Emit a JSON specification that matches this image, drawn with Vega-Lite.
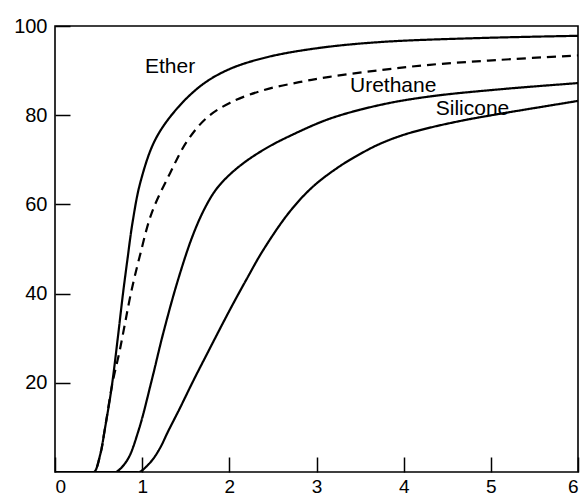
{
  "$schema": "https://vega.github.io/schema/vega-lite/v6.json",
  "width": 523,
  "height": 446,
  "autosize": {"type": "none"},
  "padding": {"left": 55, "top": 26, "right": 8, "bottom": 24},
  "background": "white",
  "config": {
    "view": {"stroke": "black", "strokeWidth": 1.6},
    "font": "Liberation Sans"
  },
  "datasets": {
    "curves": [
      {"series": "Ether", "t": 0, "v": 0},
      {"series": "Ether", "t": 0.4, "v": 0},
      {"series": "Ether", "t": 0.45, "v": 0},
      {"series": "Ether", "t": 0.52, "v": 4},
      {"series": "Ether", "t": 0.57, "v": 9.4},
      {"series": "Ether", "t": 0.65, "v": 19},
      {"series": "Ether", "t": 0.72, "v": 30},
      {"series": "Ether", "t": 0.78, "v": 40},
      {"series": "Ether", "t": 0.83, "v": 47.5},
      {"series": "Ether", "t": 0.89, "v": 56},
      {"series": "Ether", "t": 0.98, "v": 65},
      {"series": "Ether", "t": 1.15, "v": 74.5},
      {"series": "Ether", "t": 1.4, "v": 81.5},
      {"series": "Ether", "t": 1.7, "v": 87.0},
      {"series": "Ether", "t": 2.01, "v": 90.4},
      {"series": "Ether", "t": 2.43, "v": 93.0},
      {"series": "Ether", "t": 3.0, "v": 95.0},
      {"series": "Ether", "t": 3.73, "v": 96.4},
      {"series": "Ether", "t": 4.87, "v": 97.3},
      {"series": "Ether", "t": 6.0, "v": 97.8},
      {"series": "Dashed", "t": 0, "v": 0},
      {"series": "Dashed", "t": 0.4, "v": 0},
      {"series": "Dashed", "t": 0.45, "v": 0},
      {"series": "Dashed", "t": 0.52, "v": 4},
      {"series": "Dashed", "t": 0.57, "v": 9.4},
      {"series": "Dashed", "t": 0.66, "v": 20},
      {"series": "Dashed", "t": 0.74, "v": 27},
      {"series": "Dashed", "t": 0.8, "v": 33},
      {"series": "Dashed", "t": 0.87, "v": 40},
      {"series": "Dashed", "t": 0.97, "v": 48.2},
      {"series": "Dashed", "t": 1.11, "v": 58.1},
      {"series": "Dashed", "t": 1.32, "v": 67},
      {"series": "Dashed", "t": 1.51, "v": 74.0},
      {"series": "Dashed", "t": 1.74, "v": 79.4},
      {"series": "Dashed", "t": 2.01, "v": 82.8},
      {"series": "Dashed", "t": 2.39, "v": 85.6},
      {"series": "Dashed", "t": 2.8, "v": 87.4},
      {"series": "Dashed", "t": 3.15, "v": 88.6},
      {"series": "Dashed", "t": 3.73, "v": 90.1},
      {"series": "Dashed", "t": 4.3, "v": 91.3},
      {"series": "Dashed", "t": 5.1, "v": 92.4},
      {"series": "Dashed", "t": 6.0, "v": 93.4},
      {"series": "Urethane", "t": 0, "v": 0},
      {"series": "Urethane", "t": 0.65, "v": 0},
      {"series": "Urethane", "t": 0.7, "v": 0},
      {"series": "Urethane", "t": 0.83, "v": 2.7},
      {"series": "Urethane", "t": 0.96, "v": 9.4},
      {"series": "Urethane", "t": 1.11, "v": 20.6},
      {"series": "Urethane", "t": 1.24, "v": 31},
      {"series": "Urethane", "t": 1.41, "v": 43},
      {"series": "Urethane", "t": 1.58, "v": 53},
      {"series": "Urethane", "t": 1.72, "v": 59.2},
      {"series": "Urethane", "t": 1.85, "v": 63.4},
      {"series": "Urethane", "t": 2.0, "v": 66.6},
      {"series": "Urethane", "t": 2.2, "v": 69.8},
      {"series": "Urethane", "t": 2.45, "v": 72.9},
      {"series": "Urethane", "t": 2.7, "v": 75.4},
      {"series": "Urethane", "t": 3.15, "v": 79.2},
      {"series": "Urethane", "t": 3.73, "v": 82.3},
      {"series": "Urethane", "t": 4.3, "v": 84.2},
      {"series": "Urethane", "t": 5.1, "v": 85.8},
      {"series": "Urethane", "t": 6.0, "v": 87.2},
      {"series": "Silicone", "t": 0, "v": 0},
      {"series": "Silicone", "t": 0.92, "v": 0},
      {"series": "Silicone", "t": 0.97, "v": 0},
      {"series": "Silicone", "t": 1.1, "v": 2.3},
      {"series": "Silicone", "t": 1.2, "v": 5.2},
      {"series": "Silicone", "t": 1.3, "v": 9.2},
      {"series": "Silicone", "t": 1.43, "v": 14.2},
      {"series": "Silicone", "t": 1.58, "v": 20.2},
      {"series": "Silicone", "t": 1.7, "v": 24.8},
      {"series": "Silicone", "t": 2.01, "v": 36.5},
      {"series": "Silicone", "t": 2.2, "v": 43.3},
      {"series": "Silicone", "t": 2.39, "v": 49.8},
      {"series": "Silicone", "t": 2.69, "v": 58.3},
      {"series": "Silicone", "t": 2.96, "v": 64},
      {"series": "Silicone", "t": 3.27, "v": 68.6},
      {"series": "Silicone", "t": 3.5, "v": 71.3},
      {"series": "Silicone", "t": 3.73, "v": 73.6},
      {"series": "Silicone", "t": 4.0, "v": 75.6},
      {"series": "Silicone", "t": 4.3, "v": 77.2},
      {"series": "Silicone", "t": 4.7, "v": 78.9},
      {"series": "Silicone", "t": 5.1, "v": 80.3},
      {"series": "Silicone", "t": 5.5, "v": 81.6},
      {"series": "Silicone", "t": 6.0, "v": 83.2}
    ],
    "labels": [
      {"t": 1.32, "v": 90.8, "text": "Ether"},
      {"t": 3.88, "v": 86.6, "text": "Urethane"},
      {"t": 4.79, "v": 81.4, "text": "Silicone"}
    ]
  },
  "layer": [
    {
      "data": {"name": "curves"},
      "mark": {"type": "line", "interpolate": "catmull-rom", "strokeWidth": 2.2, "color": "black", "clip": true},
      "encoding": {
        "x": {
          "field": "t", "type": "quantitative",
          "scale": {"domain": [0, 6], "nice": false},
          "axis": {
            "title": null, "grid": false, "domain": false,
            "values": [0, 1, 2, 3, 4, 5, 6], "format": "d",
            "tickSize": -15, "tickColor": "black", "tickWidth": 1.5,
            "labelFontSize": 19, "labelColor": "black", "labelPadding": 20,
            "labelFont": "Liberation Sans", "labelOverlap": false
          }
        },
        "y": {
          "field": "v", "type": "quantitative",
          "scale": {"domain": [0, 100], "nice": false},
          "axis": {
            "title": null, "grid": false, "domain": false,
            "values": [20, 40, 60, 80, 100], "format": "d",
            "tickSize": -15, "tickColor": "black", "tickWidth": 1.5,
            "labelFontSize": 20, "labelColor": "black", "labelPadding": 23,
            "labelFont": "Liberation Sans", "labelOverlap": false
          }
        },
        "detail": {"field": "series"},
        "strokeDash": {
          "field": "series", "type": "nominal",
          "scale": {"domain": ["Ether", "Dashed", "Urethane", "Silicone"], "range": [[1, 0], [9, 6], [1, 0], [1, 0]]},
          "legend": null
        }
      }
    },
    {
      "data": {"name": "labels"},
      "mark": {"type": "text", "fontSize": 21, "font": "Liberation Sans", "color": "black", "align": "center", "baseline": "middle"},
      "encoding": {
        "x": {"field": "t", "type": "quantitative"},
        "y": {"field": "v", "type": "quantitative"},
        "text": {"field": "text"}
      }
    }
  ]
}
